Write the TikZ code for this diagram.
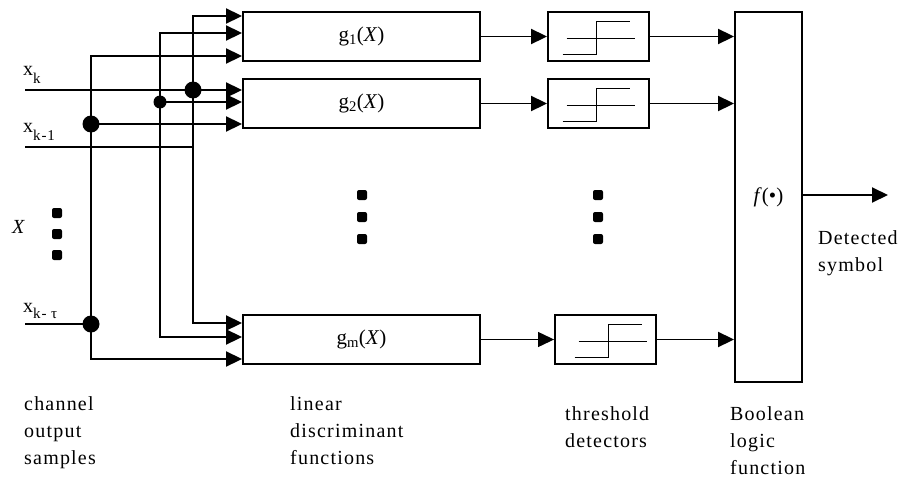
\documentclass[tikz,border=0pt]{standalone}
\usepackage{fontspec}
\setmainfont{Liberation Serif}
\newfontfamily\lblfont{Liberation Serif}[LetterSpace=6]
\usetikzlibrary{arrows.meta}

% lowered subscript used in the input labels
\newcommand\lowsub[2][0.4em]{\raisebox{-#1}{\fontsize{15}{15}\selectfont #2}}

\tikzset{
  wire/.style={line width=1.9pt, line join=miter},
  tip/.tip={Triangle[length=16pt,width=15pt]},
  feed/.style={wire, -tip},
  feedboth/.style={wire, tip-tip},
  gbox/.style={draw, line width=1.9pt, minimum width=237pt, minimum height=49pt,
    inner sep=0pt, font=\fontsize{21}{24}\selectfont},
  tbox/.style={draw, line width=1.9pt, minimum width=101pt, minimum height=49pt, inner sep=0pt},
  fbox/.style={draw, line width=1.9pt, minimum width=67pt, minimum height=370pt,
    inner sep=0pt, font=\fontsize{21}{24}\selectfont},
  bigdot/.style={circle, fill, minimum size=17pt, inner sep=0pt},
  smalldot/.style={circle, fill, minimum size=13pt, inner sep=0pt},
  vdot/.style={fill, rounded corners=2pt, minimum size=10pt, inner sep=0pt},
  lbl/.style={inner sep=0pt, font=\lblfont\fontsize{20}{27}\selectfont},
  caption/.style={lbl, align=left, anchor=north west},
  stepfn/.pic={
    \draw[line width=1.6pt] (-32,2) -- (36,2);
    \draw[line width=1.6pt] (-36,18) -- (-2,18) -- (-2,-15) -- (31,-15);
  }
}

\begin{document}
\begin{tikzpicture}[x=1pt, y=-1pt]
\fill[white] (0,0) rectangle (904,479);
\useasboundingbox (0,0) rectangle (904,479);

% discriminant, threshold and decision blocks
\node[gbox] (g1) at (361.5,36.5) {g\textsubscript{1}(\textit{X})};
\node[gbox] (g2) at (361.5,103.5) {g\textsubscript{2}(\textit{X})};
\node[gbox] (gm) at (361.5,339.5) {g\textsubscript{m}(\textit{X})};
\node[tbox] (t1) at (598.5,36.5) {};
\node[tbox] (t2) at (598.5,103.5) {};
\node[tbox] (tm) at (605.5,339.5) {};
\pic at (t1) {stepfn};
\pic at (t2) {stepfn};
\pic at ([xshift=5pt]tm.center) {stepfn};
\node[fbox] (f) at (768.5,197) {\textit{f}(•)};

% input lines and bus turning points
\coordinate (xk)  at (25,90);
\coordinate (xk1) at (25,147);
\coordinate (xkt) at (25,324);
\coordinate (a1) at (193,16);  \coordinate (a2) at (193,323);
\coordinate (b1) at (160,33);  \coordinate (b2) at (160,337);
\coordinate (c1) at (91,56);   \coordinate (c2) at (91,359);
\coordinate (fout) at (888,195);

% vertical buses feeding the first and last discriminant blocks
\draw[feedboth] (a1 -| g1.west) -- (a1) -- (a2) -- (a2 -| gm.west);
\draw[feedboth] (b1 -| g1.west) -- (b1) -- (b2) -- (b2 -| gm.west);
\draw[feedboth] (c1 -| g1.west) -- (c1) -- (c2) -- (c2 -| gm.west);

% junctions
\node[bigdot]   (ja) at (193,90)  {};
\node[smalldot] (jb) at (160,102) {};
\node[bigdot]   (jc) at (91,124)  {};
\node[bigdot]   (jd) at (91,324)  {};

% taps into g2 and the sample inputs
\draw[feed] (xk) -- (xk -| g2.west);
\draw[feed] (jb.center) -- (jb.center -| g2.west);
\draw[feed] (jc.center) -- (jc.center -| g2.west);
\draw[wire] (xk1) -- (xk1 -| a1);
\draw[wire] (xkt) -- (jd.center);

% discriminant outputs to threshold detectors
\draw[feed] (g1.east) -- (t1.west);
\draw[feed] (g2.east) -- (t2.west);
\draw[line width=1.2pt, -tip] (gm.east) -- (tm.west);

% detector outputs to the Boolean function
\draw[feed] (t1.east) -- (t1.east -| f.west);
\draw[feed] (t2.east) -- (t2.east -| f.west);
\draw[feed] (tm.east) -- (tm.east -| f.west);
\draw[feed] (fout -| f.east) -- (fout);

% vertical ellipses
\node[vdot] (la1) at (57,213) {};
\node[vdot] (la2) at (57,234) {};
\node[vdot] (la3) at (57,255) {};
\node[vdot] (ma1) at (362,195) {};
\node[vdot] (ma2) at (362,217) {};
\node[vdot] (ma3) at (362,239) {};
\node[vdot] (ra1) at (598,195) {};
\node[vdot] (ra2) at (598,217) {};
\node[vdot] (ra3) at (598,239) {};

% input labels
\node[lbl, anchor=base west] (lxk)  at (23,75)  {x\lowsub{k}};
\node[lbl, anchor=base west] (lxk1) at (23,132) {x\lowsub{k-1}};
\node[lbl, anchor=base west] (lxkt) at (23,312) {x\lowsub[0.3em]{k- τ}};
\node[lbl, anchor=base west] (lX)   at (12,233) {\textit{X}};

% output label
\node[caption] (ldet) at (818,230) {Detected\\symbol};

% stage captions
\node[caption] (lch)  at (24,396)  {channel\\output\\samples};
\node[caption] (llin) at (290,396) {linear\\discriminant\\functions};
\node[caption] (lthr) at (565,406) {threshold\\detectors};
\node[caption] (lbool) at (730,406) {Boolean\\logic\\function};
\end{tikzpicture}
\end{document}
